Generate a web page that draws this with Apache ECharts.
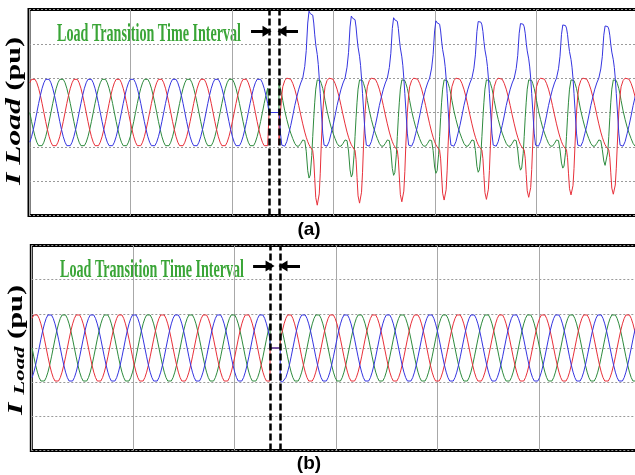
<!DOCTYPE html>
<html>
<head>
<meta charset="utf-8">
<script src="https://cdn.jsdelivr.net/npm/echarts@6/dist/echarts.min.js"></script>
<style>
  html, body { margin: 0; padding: 0; background: #fff; }
  #chart { width: 635px; height: 475px; }
</style>
</head>
<body>
<div id="chart"></div>
<script>
// ---- data ----
var period = 1000 / 60;            // ms, 60 Hz
var timeMax = 240, timeStep = 40;  // ms
var valueMin = -3, valueMax = 3, valueStep = 1;

// one sampled cycle (24 samples) of each phase, red starts at its peak
var redSine   = [1, 0.966, 0.866, 0.707, 0.5, 0.259, 0, -0.259, -0.5, -0.707, -0.866, -0.966, -1, -0.966, -0.866, -0.707, -0.5, -0.259, 0, 0.259, 0.5, 0.707, 0.866, 0.966];
var blueSine  = [-0.5, -0.259, 0, 0.259, 0.5, 0.707, 0.866, 0.966, 1, 0.966, 0.866, 0.707, 0.5, 0.259, 0, -0.259, -0.5, -0.707, -0.866, -0.966, -1, -0.966, -0.866, -0.707];
var greenSine = [-0.5, -0.707, -0.866, -0.966, -1, -0.966, -0.866, -0.707, -0.5, -0.259, 0, 0.259, 0.5, 0.707, 0.866, 0.966, 1, 0.966, 0.866, 0.707, 0.5, 0.259, 0, -0.259];
var sineStart = 1.7;               // ms, first red peak

// transition gaps (ms)
var gapA = [94.6, 98.5];
var gapB = [94.1, 98.1];

// distorted load current in (a) after the transition: one cycle, offsets in ms
var distStart = 100.0;
var distOffsets = [0, 0.79, 1.58, 2.36, 3.15, 3.94, 4.73, 5.52, 6.31, 7.09, 7.88, 8.67, 9.26, 9.85, 10.36, 10.84, 11.43, 11.82, 12.22, 12.61, 13.01, 13.6, 14.0, 14.38, 14.78, 15.17, 15.76, 16.28];
var distBlue  = [-1.0, -0.98, -0.85, -0.62, -0.38, -0.1, 0.2, 0.45, 0.68, 0.86, 1.0, 1.3, 1.7, 2.4, 2.7, 2.64, 2.68, 2.6, 2.4, 2.1, 1.85, 1.6, 1.35, 1.0, 0.55, 0.1, -0.6, -0.95];
var distRed   = [0.75, 0.93, 1.0, 1.02, 0.97, 0.85, 0.68, 0.46, 0.2, -0.07, -0.33, -0.57, -0.72, -0.85, -0.94, -1.0, -1.04, -1.1, -1.35, -1.85, -2.35, -2.55, -2.5, -2.25, -1.7, -0.95, 0.0, 0.5];
var distGreen = [0.35, 0.05, -0.2, -0.42, -0.6, -0.76, -0.9, -0.98, -0.98, -0.9, -0.8, -0.82, -1.1, -1.55, -1.72, -1.65, -1.2, -0.7, -0.15, 0.3, 0.68, 0.95, 1.0, 0.98, 0.93, 0.85, 0.7, 0.52];
// extremes of each cycle after the transition
var bluePeaks    = [2.95, 2.81, 2.76, 2.67, 2.65, 2.59, 2.55, 2.52, 2.5];
var redTroughs   = [-2.7, -2.64, -2.6, -2.55, -2.53, -2.47, -2.4, -2.38, -2.35];
var greenTroughs = [-1.91, -1.88, -1.83, -1.77, -1.74, -1.68, -1.62, -1.54, -1.5];

// arrows: [from, to] ms at a value level
var arrowsA = [[87.5, 93.8], [106.0, 99.7]], arrowLevelA = 2.37;
var arrowsB = [[87.4, 94.1], [105.9, 99.2]], arrowLevelB = 2.4;

var colors = { red: '#e8303a', blue: '#3535e0', green: '#2e8b3e' };
var noteText = 'Load Transition Time Interval';

// ---- build series ----
function sinePoints(wave, from, to) {
    var pts = [], n = wave.length;
    for (var c = -1; c < 20; c++) {
        for (var k = 0; k < n; k++) {
            var t = sineStart + (c + k / n) * period;
            if (t < from) continue;
            if (t > to) return pts;
            pts.push([t, wave[k]]);
        }
    }
    return pts;
}

function distortedPoints(values, extremes, templateExtreme, from, to, upper) {
    var pts = [];
    for (var c = -1; c < 10; c++) {
        var target = extremes[Math.max(0, Math.min(c, extremes.length - 1))];
        for (var k = 0; k < distOffsets.length; k++) {
            var t = distStart + c * period + distOffsets[k];
            if (t < from) continue;
            if (t > to) return pts;
            var v = values[k];
            if (upper && v > 1) v = 1 + (v - 1) * (target - 1) / (templateExtreme - 1);
            if (!upper && v < -1) v = -1 + (v + 1) * (target + 1) / (templateExtreme + 1);
            pts.push([t, v]);
        }
    }
    return pts;
}

function withGap(pre, post, gap) {
    var last = pre[pre.length - 1][1];
    return pre.concat([[gap[0], last], [gap[0], 0], [gap[1], 0], [gap[1], post[0][1]]], post);
}

var seriesA = {
    red:   withGap(sinePoints(redSine, 0, gapA[0]),   distortedPoints(distRed, redTroughs, -2.55, gapA[1], timeMax + 5, false), gapA),
    green: withGap(sinePoints(greenSine, 0, gapA[0]), distortedPoints(distGreen, greenTroughs, -1.72, gapA[1], timeMax + 5, false), gapA),
    blue:  withGap(sinePoints(blueSine, 0, gapA[0]),  distortedPoints(distBlue, bluePeaks, 2.7, gapA[1], timeMax + 5, true), gapA)
};
var seriesB = {
    red:   withGap(sinePoints(redSine, 0, gapB[0]),   sinePoints(redSine, gapB[1], timeMax + 5), gapB),
    green: withGap(sinePoints(greenSine, 0, gapB[0]), sinePoints(greenSine, gapB[1], timeMax + 5), gapB),
    blue:  withGap(sinePoints(blueSine, 0, gapB[0]),  sinePoints(blueSine, gapB[1], timeMax + 5), gapB)
};

// ---- text sizing ----
var measure = document.createElement('canvas').getContext('2d');
function textWidth(font, s) { measure.font = font; return measure.measureText(s).width; }
var noteFont = 'bold 25px "Liberation Serif"';
var noteScale = 184 / textWidth(noteFont, noteText);

var labItalic = 'italic bold 21px "Liberation Serif"';
var labUpright = 'bold 20px "Liberation Serif"';
var labSub = 'italic bold 15px "Liberation Serif"';
var labScaleA = 148 / (textWidth(labItalic, 'I Load ') + textWidth(labUpright, '(pu)'));
var labScaleB = 130 / (textWidth(labItalic, 'I ') + textWidth(labSub, 'Load') + textWidth(labUpright, ' (pu)'));

// ---- chart ----
var chart = echarts.init(document.getElementById('chart'), null, { renderer: 'canvas' });

function xAxis(idx) {
    return {
        type: 'value', gridIndex: idx, min: 0, max: timeMax, interval: timeStep,
        axisLine: { show: false }, axisTick: { show: false }, axisLabel: { show: false },
        splitLine: { show: true, lineStyle: { color: '#a8a8a8', width: 1, type: 'solid' } }
    };
}
function yAxis(idx) {
    return {
        type: 'value', gridIndex: idx, min: valueMin, max: valueMax, interval: valueStep,
        axisLine: { show: false }, axisTick: { show: false }, axisLabel: { show: false },
        splitLine: { show: true, lineStyle: { color: '#9a9a9a', width: 1, type: [2, 2] } }
    };
}
function line(name, data, idx, color, extra) {
    var s = {
        name: name, type: 'line', xAxisIndex: idx, yAxisIndex: idx, data: data,
        showSymbol: false, symbol: 'none', silent: true, animation: false, clip: true,
        lineStyle: { color: color, width: 1 }
    };
    for (var key in extra) s[key] = extra[key];
    return s;
}
function gapMarks(gap) {
    return {
        silent: true, symbol: 'none', animation: false, label: { show: false },
        lineStyle: { color: '#000', width: 2.5, type: [7, 3] },
        data: [{ xAxis: gap[0] }, { xAxis: gap[1] }]
    };
}
function arrowMarks(arrows, level) {
    return {
        silent: true, symbol: ['none', 'triangle'], symbolSize: [11, 9], animation: false,
        label: { show: false },
        lineStyle: { color: '#000', width: 3, type: 'solid' },
        data: arrows.map(function (a) { return [{ coord: [a[0], level] }, { coord: [a[1], level] }]; })
    };
}

var option = {
    animation: false,
    backgroundColor: '#fff',
    grid: [
        { left: 29, top: 9.5, width: 609, height: 206, outerBoundsMode: 'none', containLabel: false,
          show: true, borderColor: '#000', borderWidth: 3, backgroundColor: '#fff' },
        { left: 31.3, top: 245.5, width: 609, height: 205, outerBoundsMode: 'none', containLabel: false,
          show: true, borderColor: '#000', borderWidth: 3, backgroundColor: '#fff' }
    ],
    xAxis: [xAxis(0), xAxis(1)],
    yAxis: [yAxis(0), yAxis(1)],
    series: [
        line('a-green', seriesA.green, 0, colors.green),
        line('a-red', seriesA.red, 0, colors.red, { markLine: arrowMarks(arrowsA, arrowLevelA) }),
        line('a-blue', seriesA.blue, 0, colors.blue, { markLine: gapMarks(gapA) }),
        line('b-green', seriesB.green, 1, colors.green),
        line('b-red', seriesB.red, 1, colors.red, { markLine: arrowMarks(arrowsB, arrowLevelB) }),
        line('b-blue', seriesB.blue, 1, colors.blue, { markLine: gapMarks(gapB) })
    ],
    graphic: [
        { type: 'text', x: 57, y: 35, scaleX: noteScale, silent: true,
          style: { text: noteText, font: noteFont, fill: '#3aa537', align: 'left', verticalAlign: 'middle' } },
        { type: 'text', x: 60, y: 271, scaleX: noteScale, silent: true,
          style: { text: noteText, font: noteFont, fill: '#3aa537', align: 'left', verticalAlign: 'middle' } },
        { type: 'text', x: 15, y: 111, rotation: Math.PI / 2, scaleX: labScaleA, silent: true,
          style: { text: '{i|I Load }{p|(pu)}', align: 'center', verticalAlign: 'middle', fill: '#000',
                   rich: { i: { font: labItalic, fill: '#000' }, p: { font: labUpright, fill: '#000' } } } },
        { type: 'text', x: 17, y: 350, rotation: Math.PI / 2, scaleX: labScaleB, silent: true,
          style: { text: '{i|I }{s|Load}{p| (pu)}', align: 'center', verticalAlign: 'middle', fill: '#000',
                   rich: { i: { font: labItalic, fill: '#000' }, s: { font: labSub, fill: '#000', verticalAlign: 'bottom' },
                           p: { font: labUpright, fill: '#000' } } } },
        { type: 'text', x: 309, y: 230, silent: true,
          style: { text: '(a)', font: 'bold 19px "Liberation Sans"', fill: '#000', align: 'center', verticalAlign: 'middle' } },
        { type: 'text', x: 309, y: 464, silent: true,
          style: { text: '(b)', font: 'bold 19px "Liberation Sans"', fill: '#000', align: 'center', verticalAlign: 'middle' } }
    ]
};

chart.setOption(option);
</script>
</body>
</html>
